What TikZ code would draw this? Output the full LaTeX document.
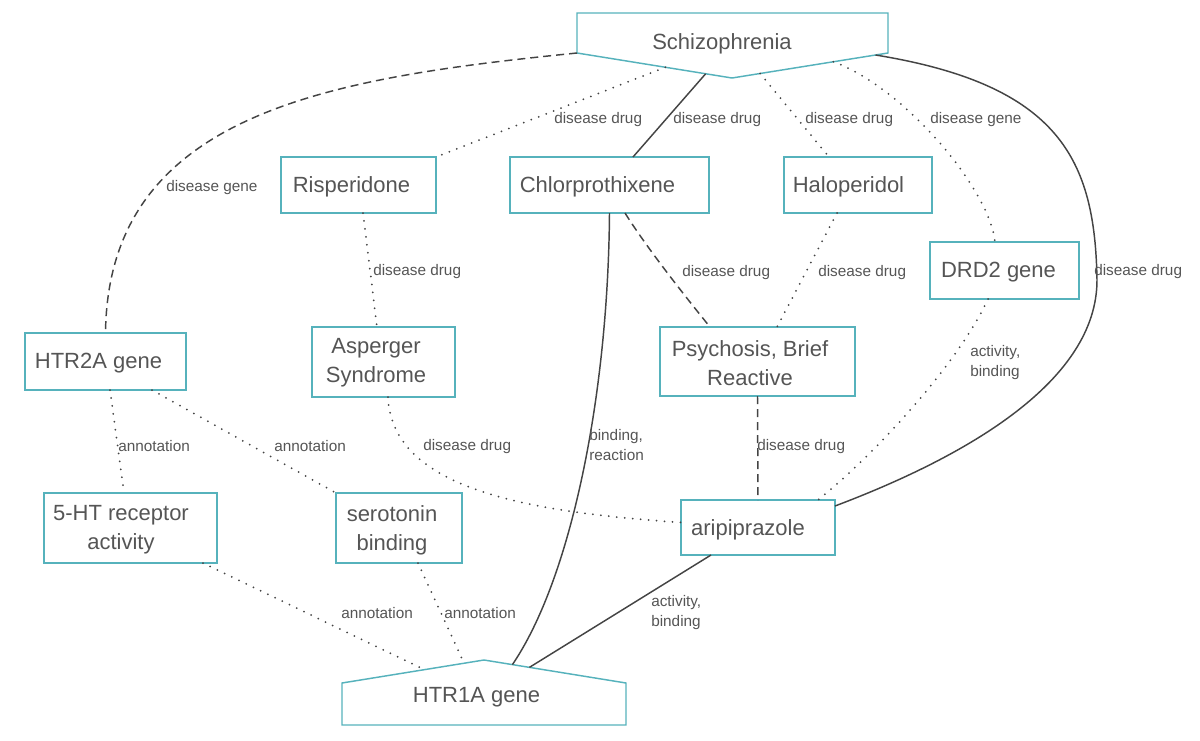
\documentclass[tikz,border=0pt]{standalone}
\usepackage{fontspec}
\setmainfont{Liberation Sans}
\usetikzlibrary{calc}
\definecolor{teal1}{RGB}{86,178,188}
\definecolor{txt}{RGB}{85,85,85}
\definecolor{edgecol}{RGB}{68,68,68}
\begin{document}
\begin{tikzpicture}[x=0.75pt,y=-0.75pt,
  box/.style 2 args={draw=teal1, line width=1.1pt, minimum width=#1*0.75pt, minimum height=#2*0.75pt, inner sep=0pt, outer sep=0pt},
  ntext/.style={text=txt, font=\fontsize{16.5}{21.75}\selectfont, align=center, inner sep=0pt, yshift=-2.2pt},
  lbl/.style={text=txt, font=\fontsize{11.5}{15}\selectfont, align=left, inner sep=0pt, anchor=west, yshift=-1.6pt},
  link/.style={draw=edgecol, line width=1.1pt},
  dotline/.style={draw=edgecol, line width=1.5pt, line cap=round, dash pattern=on 0pt off 6pt},
  dashline/.style={draw=edgecol, line width=1.1pt, dash pattern=on 6pt off 3.75pt},
  outline/.style={draw=teal1, line width=1.1pt, line join=miter}
]
\useasboundingbox (0,0) rectangle (1200,740);

% ---- nodes ----
\node[box={311}{40}, draw=none] (schizo) at (732.5,33) {};
\coordinate (stip) at (732,78);
\draw[outline] (schizo.south west) -- (schizo.north west) -- (schizo.north east) -- (schizo.south east) -- (stip) -- cycle;
\node[ntext] (schizo-t) at (722,41) {Schizophrenia};

\node[box={155}{56}] (risp) at (358.5,185) {};
\node[ntext] (risp-t) at (351.5,184) {Risperidone};

\node[box={199}{56}] (chlor) at (609.5,185) {};
\node[ntext] (chlor-t) at (597.5,184) {Chlorprothixene};

\node[box={148}{56}] (halo) at (858,185) {};
\node[ntext] (halo-t) at (848.5,184) {Haloperidol};

\node[box={149}{57}] (drd2) at (1004.5,270.5) {};
\node[ntext] (drd2-t) at (998.5,269) {DRD2 gene};

\node[box={161}{57}] (htr2a) at (105.5,361.5) {};
\node[ntext] (htr2a-t) at (98.5,360) {HTR2A gene};

\node[box={143}{70}] (asp) at (383.5,362) {};
\node[ntext] (asp-t) at (376,360) {Asperger\\Syndrome};

\node[box={195}{69}] (psy) at (757.5,361.5) {};
\node[ntext] (psy-t) at (750,360) {Psychosis, Brief\\Reactive};

\node[box={173}{70}] (fiveht) at (130.5,528) {};
\node[ntext] (fiveht-t) at (121,527) {5-HT receptor\\activity};

\node[box={126}{70}] (sero) at (399,528) {};
\node[ntext] (sero-t) at (392,527) {serotonin\\binding};

\node[box={154}{55}] (ari) at (758,527.5) {};
\node[ntext] (ari-t) at (748,527) {aripiprazole};

\node[box={284}{42}, draw=none] (htr1a) at (484,704) {};
\coordinate (htip) at (484,660);
\draw[outline] (htr1a.north west) -- (htip) -- (htr1a.north east) -- (htr1a.south east) -- (htr1a.south west) -- cycle;
\node[ntext] (htr1a-t) at (476.5,694) {HTR1A gene};

% ---- connectors ----
\draw[dashline] (schizo.south west) .. controls (330,78) and (108,112) .. (htr2a.north);
\draw[dotline] ($(schizo.south west)!0.57!(stip)$) -- (risp.north east);
\draw[link] ($(schizo.south west)!0.83!(stip)$) -- ($(chlor.north)+(23.5,0)$);
\draw[dotline] ($(stip)!0.18!(schizo.south east)$) -- ($(halo.north)+(-29,0)$);
\draw[dotline] ($(stip)!0.65!(schizo.south east)$) .. controls (905,88) and (990,190) .. ($(drd2.north)+(-9.5,0)$);
\coordinate (bend) at (1097,280);
\draw[link] ($(stip)!0.92!(schizo.south east)$) .. controls (1060,85) and (1095,160) .. (bend) .. controls (1097,380) and (970,455) .. ($(ari.north east)+(0,6)$);

\draw[dotline] ($(risp.south)+(4.5,0)$) -- ($(asp.north)+(-6.5,0)$);
\draw[dashline] ($(chlor.south)+(15.5,0)$) .. controls (645,245) and (680,290) .. ($(psy.north)+(-47.5,0)$);
\draw[dotline] ($(halo.south)+(-21,0)$) -- ($(psy.north)+(19.5,0)$);
\draw[link] (chlor.south) .. controls (608,400) and (570,580) .. ($(htip)!0.2!(htr1a.north east)$);
\draw[dotline] ($(drd2.south)+(-16.5,0)$) .. controls (960,360) and (880,450) .. ($(ari.north)+(60,0)$);
\draw[dashline] (psy.south) -- (ari.north);
\draw[dotline] ($(htr2a.south)+(4.5,0)$) -- ($(fiveht.north)+(-6.5,0)$);
\draw[dotline] ($(htr2a.south)+(46.5,0)$) -- (sero.north west);
\draw[dotline] ($(asp.south)+(4.5,0)$) .. controls (392,490) and (530,512) .. ($(ari.west)+(0,-5)$);
\draw[dotline] ($(fiveht.south)+(72.5,0)$) -- ($(htr1a.north west)!0.58!(htip)$);
\draw[dotline] ($(sero.south)+(19,0)$) -- ($(htr1a.north west)!0.86!(htip)$);
\draw[link] ($(ari.south)+(-47,0)$) -- ($(htip)!0.32!(htr1a.north east)$);

% ---- connector labels ----
\node[lbl] (l1) at (166,185) {disease gene};
\node[lbl] (l2) at (554,117) {disease drug};
\node[lbl] (l3) at (673,117) {disease drug};
\node[lbl] (l4) at (805,117) {disease drug};
\node[lbl] (l5) at (930,117) {disease gene};
\node[lbl] (l6) at (1094,269) {disease drug};
\node[lbl] (l7) at (373,269) {disease drug};
\node[lbl] (l8) at (682,270) {disease drug};
\node[lbl] (l9) at (818,270) {disease drug};
\node[lbl] (l10) at (970,360) {activity,\\binding};
\node[lbl] (l11) at (589,443) {binding,\\reaction};
\node[lbl] (l12) at (757,444) {disease drug};
\node[lbl] (l13) at (118,444) {annotation};
\node[lbl] (l14) at (274,444) {annotation};
\node[lbl] (l15) at (423,444) {disease drug};
\node[lbl] (l16) at (341,611) {annotation};
\node[lbl] (l17) at (444,611) {annotation};
\node[lbl] (l18) at (651,610) {activity,\\binding};
\end{tikzpicture}
\end{document}
